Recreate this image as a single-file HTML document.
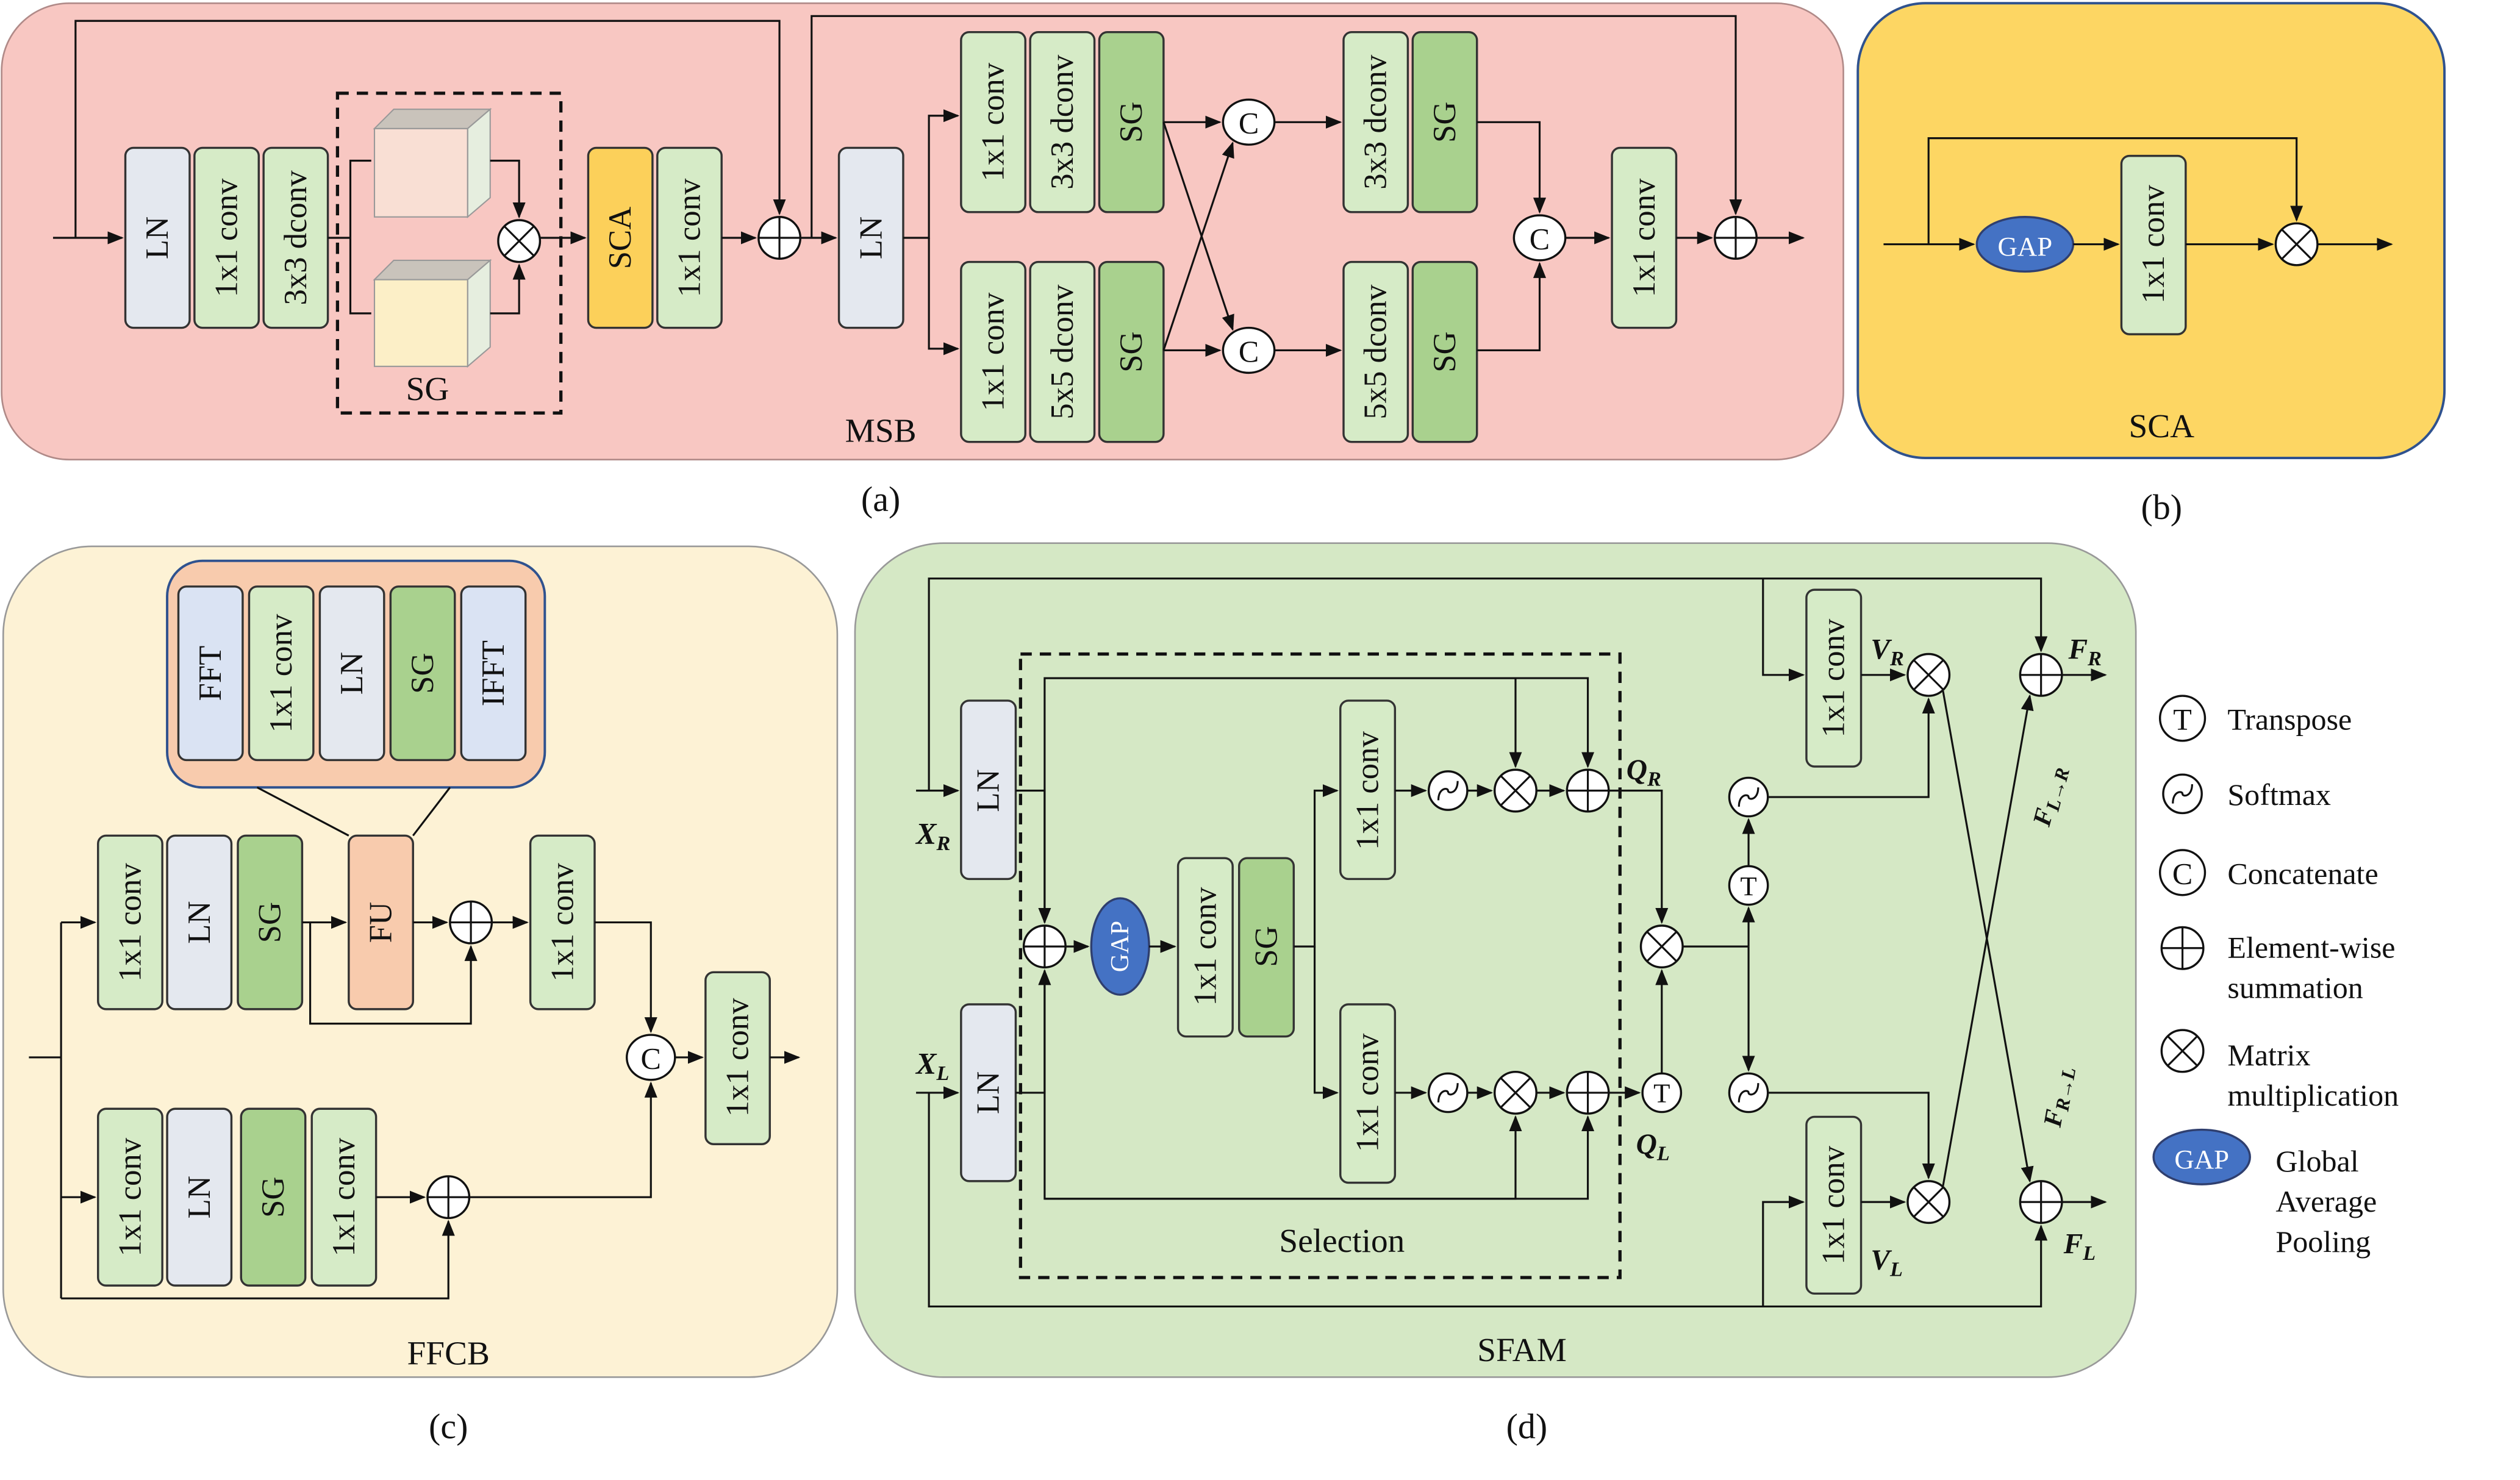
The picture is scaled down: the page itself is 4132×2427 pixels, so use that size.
<!DOCTYPE html>
<html><head><meta charset="utf-8"><style>
html,body{margin:0;padding:0;background:#fff}
svg{display:block}
text{font-family:"Liberation Serif",serif;fill:#111}
.b{stroke:#333;stroke-width:1.3}
.l{stroke:#111;stroke-width:1.2;fill:none}
.g{fill:#d6ebc7}.d{fill:#a9d18e}.w{fill:#e4e8ef}.y{fill:#fcd05a}.p{fill:#f8cbad}.bl{fill:#dae3f3}
.c{fill:none;stroke:#111;stroke-width:1.3}
</style></head><body>
<svg width="4132" height="2427" viewBox="0 0 1568 921" preserveAspectRatio="xMinYMin meet" xmlns="http://www.w3.org/2000/svg">
<defs>
<marker id="a" markerWidth="10" markerHeight="8" refX="9" refY="4" orient="auto" markerUnits="userSpaceOnUse"><path d="M0,0 L10,4 L0,8z" fill="#111"/></marker>
<g id="plus"><circle r="13" fill="#fff" stroke="#111" stroke-width="1.3"/><path d="M-13,0H13M0,-13V13" stroke="#111" stroke-width="1.2"/></g>
<g id="mul"><circle r="13" fill="#fff" stroke="#111" stroke-width="1.3"/><path d="M-9,-9L9,9M-9,9L9,-9" stroke="#111" stroke-width="1.2"/></g>
<g id="sm"><circle r="12" fill="#fff" stroke="#111" stroke-width="1.3"/><path d="M-6,6 C-6,-2 0,-2 0,0 C0,2 6,2 6,-6" stroke="#111" stroke-width="1.2" fill="none"/></g>
</defs>

<!-- Panel a -->
<rect x="1" y="2" width="1146" height="284" rx="42" fill="#f8c7c2" stroke="#b08a88" stroke-width="1"/>
<text x="548" y="275" font-size="21" text-anchor="middle">MSB</text>
<text x="548" y="318" font-size="22" text-anchor="middle">(a)</text>
<path class="l" d="M33,148H76" marker-end="url(#a)"/>
<path class="l" d="M47,148V13H485V133" marker-end="url(#a)"/>
<rect class="b w" x="78" y="92" width="40" height="112" rx="5"/>
<rect class="b g" x="121" y="92" width="40" height="112" rx="5"/>
<rect class="b g" x="164" y="92" width="40" height="112" rx="5"/>
<g font-size="20" text-anchor="middle" dominant-baseline="central">
<text transform="translate(98,148) rotate(-90)">LN</text>
<text transform="translate(141,148) rotate(-90)">1x1 conv</text>
<text transform="translate(184,148) rotate(-90)">3x3 dconv</text>
</g>
<rect x="210" y="58" width="139" height="199" fill="none" stroke="#111" stroke-width="2" stroke-dasharray="7,5"/>
<text x="266" y="249" font-size="21" text-anchor="middle">SG</text>
<path class="l" d="M204,148H218V100H231M218,148V195H231"/>
<g stroke="#999" stroke-width="0.8">
<rect x="233" y="80" width="58" height="55" fill="#f9dfd4"/><path d="M233,80 L245,68 H305 L291,80z" fill="#c9c3bb"/><path d="M291,80 L305,68 V123 L291,135z" fill="#e6eedf"/>
<rect x="233" y="174" width="58" height="54" fill="#fcefc7"/><path d="M233,174 L245,162 H305 L291,174z" fill="#c9c3bb"/><path d="M291,174 L305,162 V216 L291,228z" fill="#e6eedf"/>
</g>
<path class="l" d="M305,100H323V135" marker-end="url(#a)"/>
<path class="l" d="M305,195H323V165" marker-end="url(#a)"/>
<use href="#mul" x="323" y="150"/>
<path class="l" d="M336,148H364" marker-end="url(#a)"/>
<rect class="b y" x="366" y="92" width="40" height="112" rx="5"/>
<rect class="b g" x="409" y="92" width="40" height="112" rx="5"/>
<g font-size="20" text-anchor="middle" dominant-baseline="central">
<text transform="translate(386,148) rotate(-90)">SCA</text>
<text transform="translate(429,148) rotate(-90)">1x1 conv</text>
</g>
<path class="l" d="M449,148H470" marker-end="url(#a)"/>
<use href="#plus" x="485" y="148"/>
<path class="l" d="M498,148H520" marker-end="url(#a)"/>
<path class="l" d="M505,148V10H1080V133" marker-end="url(#a)"/>
<rect class="b w" x="522" y="92" width="40" height="112" rx="5"/>
<text transform="translate(542,148) rotate(-90)" font-size="20" text-anchor="middle" dominant-baseline="central">LN</text>
<path class="l" d="M562,148H578V72H596" marker-end="url(#a)"/>
<path class="l" d="M578,148V217H596" marker-end="url(#a)"/>
<rect class="b g" x="598" y="20" width="40" height="112" rx="5"/>
<rect class="b g" x="641" y="20" width="40" height="112" rx="5"/>
<rect class="b d" x="684" y="20" width="40" height="112" rx="5"/>
<rect class="b g" x="598" y="163" width="40" height="112" rx="5"/>
<rect class="b g" x="641" y="163" width="40" height="112" rx="5"/>
<rect class="b d" x="684" y="163" width="40" height="112" rx="5"/>
<rect class="b g" x="836" y="20" width="40" height="112" rx="5"/>
<rect class="b d" x="879" y="20" width="40" height="112" rx="5"/>
<rect class="b g" x="836" y="163" width="40" height="112" rx="5"/>
<rect class="b d" x="879" y="163" width="40" height="112" rx="5"/>
<rect class="b g" x="1003" y="92" width="40" height="112" rx="5"/>
<g font-size="20" text-anchor="middle" dominant-baseline="central">
<text transform="translate(618,76) rotate(-90)">1x1 conv</text>
<text transform="translate(661,76) rotate(-90)">3x3 dconv</text>
<text transform="translate(704,76) rotate(-90)">SG</text>
<text transform="translate(618,219) rotate(-90)">1x1 conv</text>
<text transform="translate(661,219) rotate(-90)">5x5 dconv</text>
<text transform="translate(704,219) rotate(-90)">SG</text>
<text transform="translate(856,76) rotate(-90)">3x3 dconv</text>
<text transform="translate(899,76) rotate(-90)">SG</text>
<text transform="translate(856,219) rotate(-90)">5x5 dconv</text>
<text transform="translate(899,219) rotate(-90)">SG</text>
<text transform="translate(1023,148) rotate(-90)">1x1 conv</text>
</g>
<path class="l" d="M724,76H759" marker-end="url(#a)"/>
<path class="l" d="M724,218H759" marker-end="url(#a)"/>
<path class="l" d="M724,76L767,205" marker-end="url(#a)"/>
<path class="l" d="M724,218L767,89" marker-end="url(#a)"/>
<ellipse cx="777" cy="76" rx="16" ry="14" class="c" style="fill:#fff"/>
<text x="777" y="83" font-size="19" text-anchor="middle">C</text>
<ellipse cx="777" cy="218" rx="16" ry="14" class="c" style="fill:#fff"/>
<text x="777" y="225" font-size="19" text-anchor="middle">C</text>
<path class="l" d="M793,76H834" marker-end="url(#a)"/>
<path class="l" d="M793,218H834" marker-end="url(#a)"/>
<path class="l" d="M919,76H958V132" marker-end="url(#a)"/>
<path class="l" d="M919,218H958V164" marker-end="url(#a)"/>
<ellipse cx="958" cy="148" rx="16" ry="14" class="c" style="fill:#fff"/>
<text x="958" y="155" font-size="19" text-anchor="middle">C</text>
<path class="l" d="M974,148H1001" marker-end="url(#a)"/>
<path class="l" d="M1043,148H1065" marker-end="url(#a)"/>
<use href="#plus" x="1080" y="148"/>
<path class="l" d="M1093,148H1122" marker-end="url(#a)"/>

<!-- Panel b -->
<rect x="1156" y="2" width="365" height="283" rx="42" fill="#fdd663" stroke="#2f528f" stroke-width="1.5"/>
<text x="1345" y="272" font-size="21" text-anchor="middle">SCA</text>
<text x="1345" y="323" font-size="22" text-anchor="middle">(b)</text>
<path class="l" d="M1172,152H1228" marker-end="url(#a)"/>
<path class="l" d="M1200,152V86H1429V137" marker-end="url(#a)"/>
<ellipse cx="1260" cy="152" rx="30" ry="17" fill="#4472c4" stroke="#2f3f6f" stroke-width="1.3"/>
<text x="1260" y="159" font-size="17" text-anchor="middle" style="fill:#fff">GAP</text>
<path class="l" d="M1290,152H1318" marker-end="url(#a)"/>
<rect class="b g" x="1320" y="97" width="40" height="111" rx="5"/>
<text transform="translate(1340,152) rotate(-90)" font-size="20" text-anchor="middle" dominant-baseline="central">1x1 conv</text>
<path class="l" d="M1360,152H1414" marker-end="url(#a)"/>
<use href="#mul" x="1429" y="152"/>
<path class="l" d="M1442,152H1488" marker-end="url(#a)"/>

<!-- Panel c -->
<rect x="2" y="340" width="519" height="517" rx="55" fill="#fdf2d5" stroke="#999" stroke-width="1"/>
<text x="279" y="849" font-size="21" text-anchor="middle">FFCB</text>
<text x="279" y="895" font-size="22" text-anchor="middle">(c)</text>
<rect x="104" y="349" width="235" height="141" rx="22" fill="#f8cbad" stroke="#2f528f" stroke-width="1.5"/>
<rect class="b bl" x="111" y="365" width="40" height="108" rx="5"/>
<rect class="b g" x="155" y="365" width="40" height="108" rx="5"/>
<rect class="b w" x="199" y="365" width="40" height="108" rx="5"/>
<rect class="b d" x="243" y="365" width="40" height="108" rx="5"/>
<rect class="b bl" x="287" y="365" width="40" height="108" rx="5"/>
<g font-size="20" text-anchor="middle" dominant-baseline="central">
<text transform="translate(131,419) rotate(-90)">FFT</text>
<text transform="translate(175,419) rotate(-90)">1x1 conv</text>
<text transform="translate(219,419) rotate(-90)">LN</text>
<text transform="translate(263,419) rotate(-90)">SG</text>
<text transform="translate(307,419) rotate(-90)">IFFT</text>
</g>
<path class="l" d="M160,490L217,520M280,490L257,520"/>
<path class="l" d="M18,658H38"/>
<path class="l" d="M38,574V808"/>
<path class="l" d="M38,574H59" marker-end="url(#a)"/>
<path class="l" d="M38,745H59" marker-end="url(#a)"/>
<rect class="b g" x="61" y="520" width="40" height="108" rx="5"/>
<rect class="b w" x="104" y="520" width="40" height="108" rx="5"/>
<rect class="b d" x="148" y="520" width="40" height="108" rx="5"/>
<rect class="b p" x="217" y="520" width="40" height="108" rx="5"/>
<rect class="b g" x="330" y="520" width="40" height="108" rx="5"/>
<rect class="b g" x="439" y="605" width="40" height="107" rx="5"/>
<rect class="b g" x="61" y="690" width="40" height="110" rx="5"/>
<rect class="b w" x="104" y="690" width="40" height="110" rx="5"/>
<rect class="b d" x="150" y="690" width="40" height="110" rx="5"/>
<rect class="b g" x="194" y="690" width="40" height="110" rx="5"/>
<g font-size="20" text-anchor="middle" dominant-baseline="central">
<text transform="translate(81,574) rotate(-90)">1x1 conv</text>
<text transform="translate(124,574) rotate(-90)">LN</text>
<text transform="translate(168,574) rotate(-90)">SG</text>
<text transform="translate(237,574) rotate(-90)">FU</text>
<text transform="translate(350,574) rotate(-90)">1x1 conv</text>
<text transform="translate(459,658) rotate(-90)">1x1 conv</text>
<text transform="translate(81,745) rotate(-90)">1x1 conv</text>
<text transform="translate(124,745) rotate(-90)">LN</text>
<text transform="translate(170,745) rotate(-90)">SG</text>
<text transform="translate(214,745) rotate(-90)">1x1 conv</text>
</g>
<path class="l" d="M188,574H215" marker-end="url(#a)"/>
<path class="l" d="M193,574V637H293V589" marker-end="url(#a)"/>
<path class="l" d="M257,574H278" marker-end="url(#a)"/>
<use href="#plus" x="293" y="574"/>
<path class="l" d="M306,574H328" marker-end="url(#a)"/>
<path class="l" d="M370,574H405V642" marker-end="url(#a)"/>
<ellipse cx="405" cy="658" rx="15" ry="14" class="c" style="fill:#fff"/>
<text x="405" y="665" font-size="19" text-anchor="middle">C</text>
<path class="l" d="M420,658H437" marker-end="url(#a)"/>
<path class="l" d="M479,658H497" marker-end="url(#a)"/>
<path class="l" d="M234,745H264" marker-end="url(#a)"/>
<use href="#plus" x="279" y="745"/>
<path class="l" d="M38,808H279V760" marker-end="url(#a)"/>
<path class="l" d="M292,745H405V674" marker-end="url(#a)"/>

<!-- Panel d -->
<rect x="532" y="338" width="797" height="519" rx="55" fill="#d5e8c5" stroke="#999" stroke-width="1"/>
<text x="947" y="847" font-size="21" text-anchor="middle">SFAM</text>
<text x="950" y="895" font-size="22" text-anchor="middle">(d)</text>
<rect x="635" y="407" width="373" height="388" fill="none" stroke="#111" stroke-width="2" stroke-dasharray="7,5"/>
<text x="835" y="779" font-size="21" text-anchor="middle">Selection</text>
<path class="l" d="M578,492V360H1270V405" marker-end="url(#a)"/>
<path class="l" d="M570,492H596" marker-end="url(#a)"/>
<path class="l" d="M578,680V813H1270V763" marker-end="url(#a)"/>
<path class="l" d="M570,680H596" marker-end="url(#a)"/>
<text x="570" y="525" font-size="19" font-weight="bold" font-style="italic">X<tspan font-size="13" dy="4">R</tspan></text>
<text x="570" y="668" font-size="19" font-weight="bold" font-style="italic">X<tspan font-size="13" dy="4">L</tspan></text>
<rect class="b w" x="598" y="436" width="34" height="111" rx="5"/>
<rect class="b w" x="598" y="625" width="34" height="110" rx="5"/>
<g font-size="20" text-anchor="middle" dominant-baseline="central">
<text transform="translate(615,492) rotate(-90)">LN</text>
<text transform="translate(615,680) rotate(-90)">LN</text>
</g>
<path class="l" d="M632,492H650V574" marker-end="url(#a)"/>
<path class="l" d="M632,680H650V604" marker-end="url(#a)"/>
<use href="#plus" x="650" y="589"/>
<path class="l" d="M650,574V422H943V477" marker-end="url(#a)"/>
<path class="l" d="M650,422H988V477" marker-end="url(#a)"/>
<path class="l" d="M650,604V746H943V695" marker-end="url(#a)"/>
<path class="l" d="M650,746H988V695" marker-end="url(#a)"/>
<path class="l" d="M663,589H677" marker-end="url(#a)"/>
<ellipse cx="697" cy="589" rx="18" ry="30" fill="#4472c4" stroke="#2f3f6f" stroke-width="1.3"/>
<text transform="translate(697,589) rotate(-90)" font-size="16" text-anchor="middle" dominant-baseline="central" style="fill:#fff">GAP</text>
<path class="l" d="M715,589H731" marker-end="url(#a)"/>
<rect class="b g" x="733" y="534" width="34" height="111" rx="5"/>
<rect class="b d" x="771" y="534" width="34" height="111" rx="5"/>
<rect class="b g" x="834" y="436" width="34" height="111" rx="5"/>
<rect class="b g" x="834" y="625" width="34" height="111" rx="5"/>
<g font-size="20" text-anchor="middle" dominant-baseline="central">
<text transform="translate(750,589) rotate(-90)">1x1 conv</text>
<text transform="translate(788,589) rotate(-90)">SG</text>
<text transform="translate(851,492) rotate(-90)">1x1 conv</text>
<text transform="translate(851,680) rotate(-90)">1x1 conv</text>
</g>
<path class="l" d="M805,589H818V492H832" marker-end="url(#a)"/>
<path class="l" d="M818,589V680H832" marker-end="url(#a)"/>
<path class="l" d="M868,492H887" marker-end="url(#a)"/>
<path class="l" d="M868,680H887" marker-end="url(#a)"/>
<use href="#sm" x="901" y="492"/><use href="#sm" x="901" y="680"/>
<path class="l" d="M913,492H928" marker-end="url(#a)"/>
<path class="l" d="M913,680H928" marker-end="url(#a)"/>
<use href="#mul" x="943" y="492"/><use href="#mul" x="943" y="680"/>
<path class="l" d="M956,492H973" marker-end="url(#a)"/>
<path class="l" d="M956,680H973" marker-end="url(#a)"/>
<use href="#plus" x="988" y="492"/><use href="#plus" x="988" y="680"/>
<path class="l" d="M1001,680H1020" marker-end="url(#a)"/>
<circle cx="1034" cy="680" r="12" fill="#fff" stroke="#111" stroke-width="1.3"/>
<text x="1034" y="686" font-size="17" text-anchor="middle">T</text>
<path class="l" d="M1001,492H1034V574" marker-end="url(#a)"/>
<path class="l" d="M1034,668V604" marker-end="url(#a)"/>
<use href="#mul" x="1034" y="589"/>
<text x="1012" y="485" font-size="18" font-weight="bold" font-style="italic">Q<tspan font-size="13" dy="4">R</tspan></text>
<text x="1018" y="718" font-size="18" font-weight="bold" font-style="italic">Q<tspan font-size="13" dy="4">L</tspan></text>
<path class="l" d="M1047,589H1088"/>
<path class="l" d="M1088,589V565" marker-end="url(#a)"/>
<circle cx="1088" cy="551" r="12" fill="#fff" stroke="#111" stroke-width="1.3"/>
<text x="1088" y="557" font-size="17" text-anchor="middle">T</text>
<path class="l" d="M1088,539V510" marker-end="url(#a)"/>
<use href="#sm" x="1088" y="496"/>
<path class="l" d="M1088,589V666" marker-end="url(#a)"/>
<use href="#sm" x="1088" y="680"/>
<path class="l" d="M1100,496H1200V435" marker-end="url(#a)"/>
<path class="l" d="M1100,680H1200V733" marker-end="url(#a)"/>
<path class="l" d="M1097,360V420H1122" marker-end="url(#a)"/>
<path class="l" d="M1097,813V748H1122" marker-end="url(#a)"/>
<rect class="b g" x="1124" y="367" width="34" height="110" rx="5"/>
<rect class="b g" x="1124" y="695" width="34" height="110" rx="5"/>
<g font-size="20" text-anchor="middle" dominant-baseline="central">
<text transform="translate(1141,422) rotate(-90)">1x1 conv</text>
<text transform="translate(1141,750) rotate(-90)">1x1 conv</text>
</g>
<path class="l" d="M1158,420H1185" marker-end="url(#a)"/>
<path class="l" d="M1158,748H1185" marker-end="url(#a)"/>
<use href="#mul" x="1200" y="420"/><use href="#mul" x="1200" y="748"/>
<text x="1164" y="410" font-size="18" font-weight="bold" font-style="italic">V<tspan font-size="13" dy="4">R</tspan></text>
<text x="1164" y="790" font-size="18" font-weight="bold" font-style="italic">V<tspan font-size="13" dy="4">L</tspan></text>
<path class="l" d="M1209,430L1263,735" marker-end="url(#a)"/>
<path class="l" d="M1209,738L1263,433" marker-end="url(#a)"/>
<use href="#plus" x="1270" y="420"/><use href="#plus" x="1270" y="748"/>
<path class="l" d="M1283,420H1310" marker-end="url(#a)"/>
<path class="l" d="M1283,748H1310" marker-end="url(#a)"/>
<text x="1287" y="410" font-size="18" font-weight="bold" font-style="italic">F<tspan font-size="13" dy="4">R</tspan></text>
<text x="1284" y="780" font-size="18" font-weight="bold" font-style="italic">F<tspan font-size="13" dy="4">L</tspan></text>
<text transform="translate(1275,515) rotate(-75)" font-size="16" font-weight="bold" font-style="italic">F<tspan font-size="12" dy="3">L→R</tspan></text>
<text transform="translate(1282,702) rotate(-80)" font-size="16" font-weight="bold" font-style="italic">F<tspan font-size="12" dy="3">R→L</tspan></text>

<!-- legend -->
<circle cx="1358" cy="447" r="14" fill="#fff" stroke="#111" stroke-width="1.3"/>
<text x="1358" y="454" font-size="19" text-anchor="middle">T</text>
<use href="#sm" x="1358" y="494"/>
<circle cx="1358" cy="543" r="14" fill="#fff" stroke="#111" stroke-width="1.3"/>
<text x="1358" y="550" font-size="19" text-anchor="middle">C</text>
<use href="#plus" x="1358" y="590"/>
<use href="#mul" x="1358" y="654"/>
<ellipse cx="1370" cy="720" rx="30" ry="17" fill="#4472c4" stroke="#2f3f6f" stroke-width="1.3"/>
<text x="1370" y="727" font-size="17" text-anchor="middle" style="fill:#fff">GAP</text>
<g font-size="19">
<text x="1386" y="454">Transpose</text>
<text x="1386" y="501">Softmax</text>
<text x="1386" y="550">Concatenate</text>
<text x="1386" y="596">Element-wise</text>
<text x="1386" y="621">summation</text>
<text x="1386" y="663">Matrix</text>
<text x="1386" y="688">multiplication</text>
<text x="1416" y="729">Global</text>
<text x="1416" y="754">Average</text>
<text x="1416" y="779">Pooling</text>
</g>
</svg>
</body></html>
